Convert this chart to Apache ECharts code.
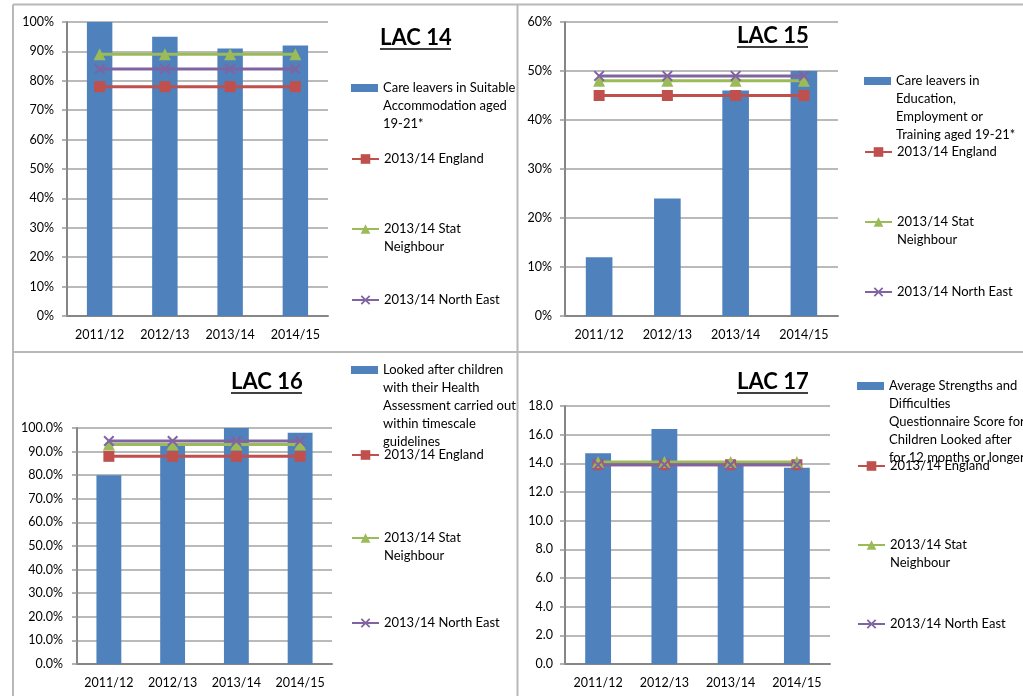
<!DOCTYPE html>
<html><head><meta charset="utf-8">
<script src="https://cdn.jsdelivr.net/npm/echarts@6/dist/echarts.min.js"></script>
<style>html,body{margin:0;padding:0;background:#fff}#c{width:1023px;height:696px}</style>
</head><body><div id="c"></div>
<script>
const categories = ['2011/12', '2012/13', '2013/14', '2014/15'];
const titles = ['LAC 14', 'LAC 15', 'LAC 16', 'LAC 17'];
const barNames = [
  'Care leavers in Suitable\nAccommodation aged\n19-21*',
  'Care leavers in\nEducation,\nEmployment or\nTraining aged 19-21*',
  'Looked after children\nwith their Health\nAssessment carried out\nwithin timescale\nguidelines',
  'Average Strengths and\nDifficulties\nQuestionnaire Score for\nChildren Looked after\nfor 12 months or longer'
];
const englandName = '2013/14 England';
const statName = '2013/14 Stat\nNeighbour';
const neName = '2013/14 North East';

// LAC 14 (%)
const lac14Bars = [100, 95, 91, 92];
const lac14England = [78, 78, 78, 78];
const lac14Stat = [89, 89, 89, 89];
const lac14NE = [84, 84, 84, 84];
// LAC 15 (%)
const lac15Bars = [12, 24, 46, 50];
const lac15England = [45, 45, 45, 45];
const lac15Stat = [48, 48, 48, 48];
const lac15NE = [49, 49, 49, 49];
// LAC 16 (%)
const lac16Bars = [80, 93, 100, 98];
const lac16England = [88, 88, 88, 88];
const lac16Stat = [93, 93, 93, 93];
const lac16NE = [94.5, 94.5, 94.5, 94.5];
// LAC 17 (score)
const lac17Bars = [14.7, 16.4, 13.9, 13.7];
const lac17England = [13.9, 13.9, 13.9, 13.9];
const lac17Stat = [14.1, 14.1, 14.1, 14.1];
const lac17NE = [13.9, 13.9, 13.9, 13.9];

// y-axis scales
const yMax = [100, 60, 100, 18];
const yInterval = [10, 10, 10, 2];

const FONT = 'Lato, "Open Sans", sans-serif';
const C_BAR = '#4F81BD', C_ENG = '#C0504D', C_STAT = '#9BBB59', C_NE = '#8064A2';
const CROSS = 'path://M0,1.3L1.3,0L5,3.7L8.7,0L10,1.3L6.3,5L10,8.7L8.7,10L5,6.3L1.3,10L0,8.7L3.7,5Z';

const grids = [
  {left: 67, top: 22, width: 261, height: 294},
  {left: 565, top: 22, width: 273, height: 294},
  {left: 77, top: 428, width: 255, height: 236},
  {left: 565, top: 406, width: 265, height: 258}
];
const labelFmt = [
  v => v + '%',
  v => v + '%',
  v => v.toFixed(1) + '%',
  v => v.toFixed(1)
];
const labelMargin = [13, 13, 14, 12];
const barsAll = [lac14Bars, lac15Bars, lac16Bars, lac17Bars];
const engAll = [lac14England, lac15England, lac16England, lac17England];
const statAll = [lac14Stat, lac15Stat, lac16Stat, lac17Stat];
const neAll = [lac14NE, lac15NE, lac16NE, lac17NE];

// legend layout: [left, barCenter, engCenter, statCenter, neCenter]
const legendPos = [
  [351, 88, 159, 229, 300],
  [864, 81, 152, 222, 292],
  [351, 370, 455, 538, 623],
  [857, 386, 466, 545, 624]
];
const titlePos = [[380, 27], [737, 25], [231, 371], [737, 371]];
const underline = [[380, 451, 49], [737, 808, 47], [231, 302, 393], [737, 808, 393]];

const LH = 18;
function legendFor(name, left, center, isBar) {
  const n = name.split('\n').length;
  return {
    data: [name], left: left, top: center - (2 * n - 1) * LH / 2, padding: 0,
    orient: 'vertical', itemWidth: 27, itemHeight: isBar ? 8 : 12,
    icon: isBar ? 'rect' : undefined,
    selectedMode: false,
    // blank lines before the text so that the icon lines up with the first line
    formatter: nm => '\n'.repeat(nm.split('\n').length - 1) + nm,
    textStyle: {fontFamily: FONT, fontSize: 13, color: '#000', lineHeight: LH}
  };
}

const xAxis = [], yAxis = [], series = [], legend = [], title = [], graphic = [];
for (let i = 0; i < 4; i++) {
  xAxis.push({
    type: 'category', gridIndex: i, data: categories,
    axisLine: {lineStyle: {color: '#868686', width: 2}},
    axisTick: {length: 6, lineStyle: {color: '#868686', width: 1.5}},
    axisLabel: {fontFamily: FONT, fontSize: 12.5, color: '#000', margin: 12, interval: 0, hideOverlap: false}
  });
  yAxis.push({
    type: 'value', gridIndex: i, min: 0, max: yMax[i], interval: yInterval[i],
    axisLine: {show: true, lineStyle: {color: '#868686', width: 2}},
    axisTick: {show: true, length: 5, lineStyle: {color: '#999', width: 1.5}},
    splitLine: {lineStyle: {color: '#a3a3a3', width: 1.5}},
    axisLabel: {fontFamily: FONT, fontSize: 12.5, color: '#000', margin: labelMargin[i], formatter: labelFmt[i]}
  });
  series.push({
    type: 'bar', name: barNames[i], xAxisIndex: i, yAxisIndex: i, data: barsAll[i],
    barWidth: '39%', itemStyle: {color: C_BAR}, z: 1
  });
  const lines = [
    [englandName, engAll[i], C_ENG, 'rect', 11],
    [statName, statAll[i], C_STAT, 'triangle', 12],
    [neName, neAll[i], C_NE, CROSS, 11]
  ];
  for (const [nm, d, col, sym, sz] of lines) {
    series.push({
      type: 'line', name: nm, xAxisIndex: i, yAxisIndex: i, data: d,
      symbol: sym, symbolSize: sz, showSymbol: true,
      lineStyle: {color: col, width: 3}, itemStyle: {color: col}, z: 3
    });
  }
  const lp = legendPos[i];
  legend.push(legendFor(barNames[i], lp[0], lp[1], true));
  legend.push(legendFor(englandName, lp[0], lp[2], false));
  legend.push(legendFor(statName, lp[0], lp[3], false));
  legend.push(legendFor(neName, lp[0], lp[4], false));
  title.push({
    text: titles[i], left: titlePos[i][0], top: titlePos[i][1], padding: 0,
    textStyle: {fontFamily: FONT, fontSize: 22, fontWeight: 'bold', color: '#000'}
  });
  graphic.push({
    type: 'line', shape: {x1: underline[i][0], y1: underline[i][2], x2: underline[i][1], y2: underline[i][2]},
    style: {stroke: '#000', lineWidth: 1.5}, silent: true
  });
}
// panel borders
const bStyle = {stroke: '#b8b8b8', lineWidth: 2};
graphic.push({type: 'line', shape: {x1: 13, y1: 4.5, x2: 1023, y2: 4.5}, style: bStyle, silent: true});
graphic.push({type: 'line', shape: {x1: 13, y1: 4.5, x2: 13, y2: 696}, style: bStyle, silent: true});
graphic.push({type: 'line', shape: {x1: 517.5, y1: 4.5, x2: 517.5, y2: 696}, style: bStyle, silent: true});
graphic.push({type: 'line', shape: {x1: 13, y1: 352, x2: 1023, y2: 352}, style: bStyle, silent: true});

const chart = echarts.init(document.getElementById('c'));
chart.setOption({
  animation: false,
  backgroundColor: '#fff',
  title, legend, grid: grids, xAxis, yAxis, series, graphic,
  tooltip: {show: false}
});
</script></body></html>
